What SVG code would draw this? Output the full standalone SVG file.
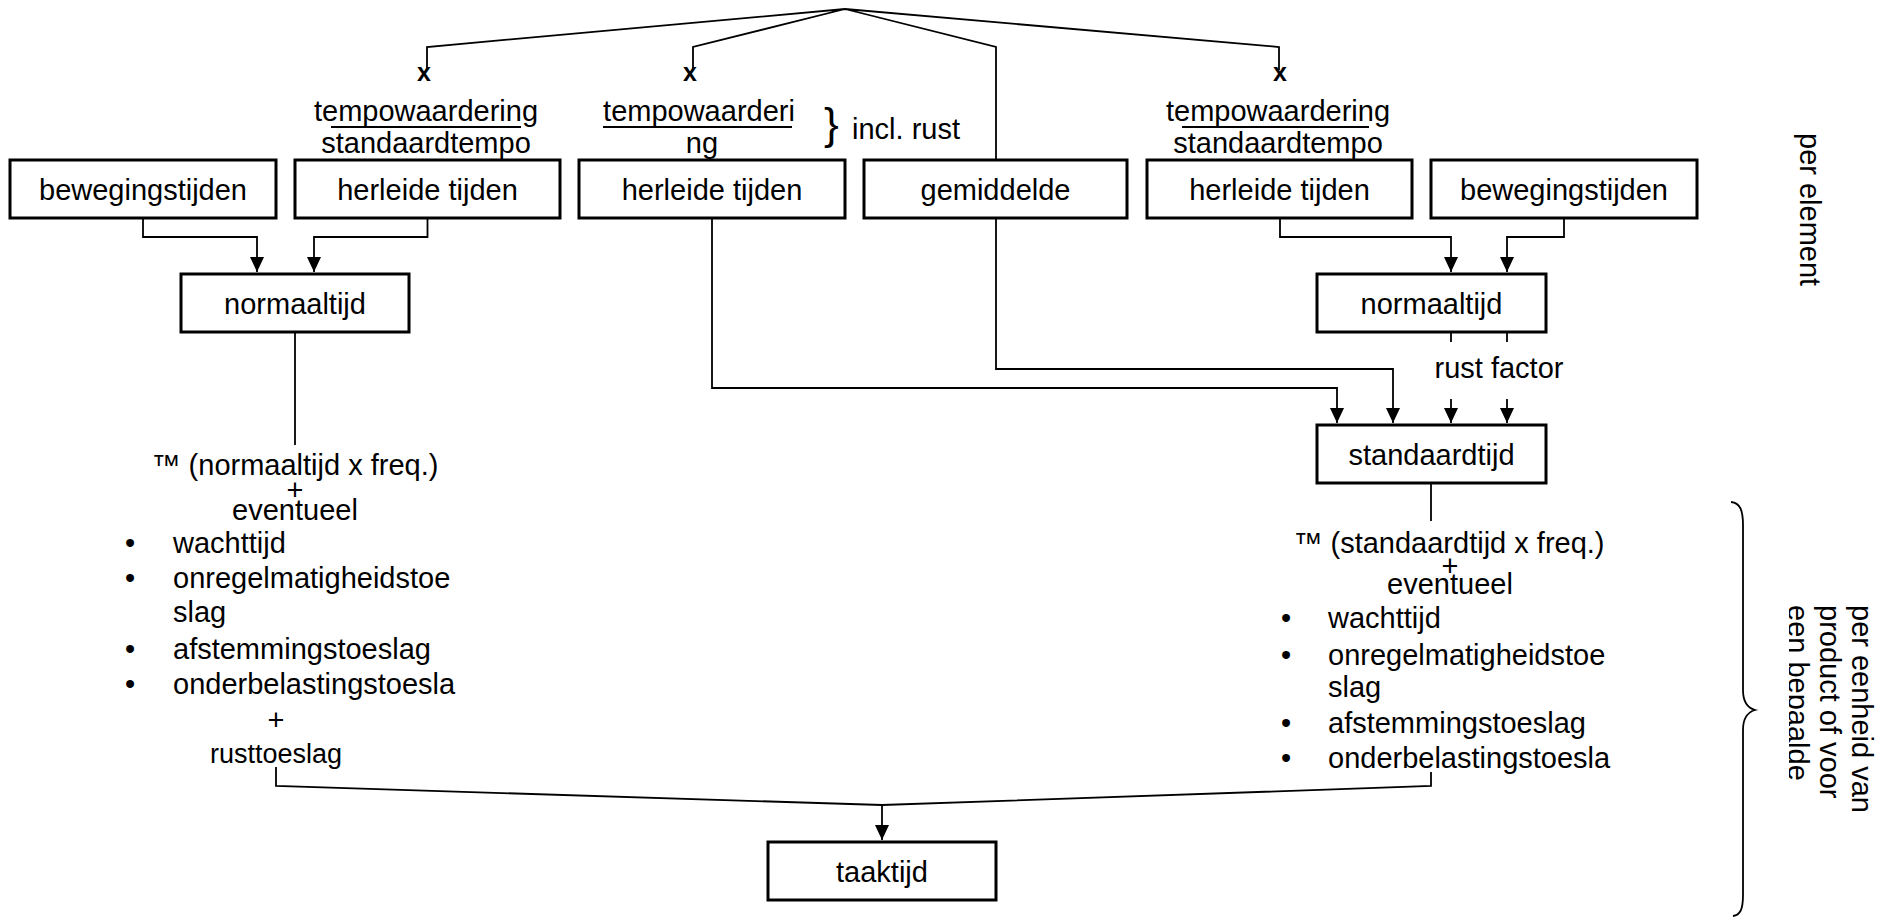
<svg xmlns="http://www.w3.org/2000/svg" width="1894" height="918" viewBox="0 0 1894 918">
<style>
text{font-family:"Liberation Sans",Arial,sans-serif;font-size:29px;fill:#000}
.m{text-anchor:middle}
.box{fill:#fff;stroke:#000;stroke-width:3}
.ln{fill:none;stroke:#000;stroke-width:1.8}
.x{font-weight:bold;font-size:25px;text-anchor:middle}
</style>
<defs>
<marker id="ah" markerUnits="userSpaceOnUse" markerWidth="16" markerHeight="14" refX="15" refY="7" orient="auto">
<path d="M0,0 L15,7 L0,14 z" fill="#000"/>
</marker>
<clipPath id="clipL"><rect x="1789" y="580" width="40" height="240"/></clipPath>
</defs>
<rect width="1894" height="918" fill="#fff"/>

<g id="connectors">
<path class="ln" d="M427,70 V47 L845,9 L693,47 V70 M845,9 L996,47 V160 M845,9 L1279,47 V70"/>
<path class="ln" d="M143,218 V237 H257 V272" marker-end="url(#ah)"/>
<path class="ln" d="M427.5,218 V237 H314 V272" marker-end="url(#ah)"/>
<path class="ln" d="M1280,218 V237 H1451 V272" marker-end="url(#ah)"/>
<path class="ln" d="M1564,218 V237 H1507 V272" marker-end="url(#ah)"/>
<path class="ln" d="M1451,332 V342 M1507,332 V342"/>
<path class="ln" d="M1451,399 V423" marker-end="url(#ah)"/>
<path class="ln" d="M1507,399 V423" marker-end="url(#ah)"/>
<path class="ln" d="M712,218 V388 H1337 V423" marker-end="url(#ah)"/>
<path class="ln" d="M996,218 V369 H1393 V423" marker-end="url(#ah)"/>
<path class="ln" d="M295,332 V445"/>
<path class="ln" d="M1431,483 V521"/>
<path class="ln" d="M276,767 V786 L882,805 L1431,786 V772"/>
<path class="ln" d="M882,805 V840" marker-end="url(#ah)"/>
<path class="ln" d="M1731,502 C1740,503 1743,510 1743,525 L1743,690 C1743,703 1748,708 1755,710 C1748,712 1743,717 1743,730 L1743,895 C1743,910 1740,915 1733,916"/>
</g>

<g id="n-bew1"><rect class="box" x="10" y="160" width="266" height="58"/><text class="m" x="143" y="199.5">bewegingstijden</text></g>
<g id="n-her1"><rect class="box" x="295" y="160" width="265" height="58"/><text class="m" x="427.5" y="199.5">herleide tijden</text></g>
<g id="n-her2"><rect class="box" x="579" y="160" width="266" height="58"/><text class="m" x="712" y="199.5">herleide tijden</text></g>
<g id="n-gem"><rect class="box" x="864" y="160" width="263" height="58"/><text class="m" x="995.5" y="199.5">gemiddelde</text></g>
<g id="n-her3"><rect class="box" x="1147" y="160" width="265" height="58"/><text class="m" x="1279.5" y="199.5">herleide tijden</text></g>
<g id="n-bew2"><rect class="box" x="1431" y="160" width="266" height="58"/><text class="m" x="1564" y="199.5">bewegingstijden</text></g>
<g id="n-norm1"><rect class="box" x="181" y="274" width="228" height="58"/><text class="m" x="295" y="313.5">normaaltijd</text></g>
<g id="n-norm2"><rect class="box" x="1317" y="274" width="229" height="58"/><text class="m" x="1431.5" y="313.5">normaaltijd</text></g>
<g id="n-std"><rect class="box" x="1317" y="425" width="229" height="58"/><text class="m" x="1431.5" y="464.5">standaardtijd</text></g>
<g id="n-taak"><rect class="box" x="768" y="842" width="228" height="58"/><text class="m" x="882" y="881.5">taaktijd</text></g>

<g id="labels-top">
<text class="x" x="424" y="81">x</text>
<text class="x" x="690" y="81">x</text>
<text class="x" x="1280" y="81">x</text>
<text class="m" x="426" y="121">tempowaardering</text>
<path class="ln" d="M331,127 H521"/>
<text class="m" x="426" y="153">standaardtempo</text>
<text class="m" x="699" y="121">tempowaarderi</text>
<path class="ln" d="M603,127 H792"/>
<text class="m" x="702" y="153">ng</text>
<text x="824" y="139" style="font-size:44px">}</text>
<text x="852" y="139">incl. rust</text>
<text class="m" x="1278" y="121">tempowaardering</text>
<path class="ln" d="M1182,127 H1369"/>
<text class="m" x="1278" y="153">standaardtempo</text>
<text class="m" x="1499" y="378">rust factor</text>
</g>

<g id="block-left">
<text class="m" x="295" y="475">™ (normaaltijd x freq.)</text>
<text class="m" x="295" y="500">+</text>
<text class="m" x="295" y="520">eventueel</text>
<text class="m" x="130" y="553">•</text><text x="173" y="553">wachttijd</text>
<text class="m" x="130" y="588">•</text><text x="173" y="588">onregelmatigheidstoe</text>
<text x="173" y="622">slag</text>
<text class="m" x="130" y="659">•</text><text x="173" y="659">afstemmingstoeslag</text>
<text class="m" x="130" y="694">•</text><text x="173" y="694">onderbelastingstoesla</text>
<text class="m" x="276" y="730">+</text>
<text class="m" x="276" y="763" style="font-size:27px">rusttoeslag</text>
</g>

<g id="block-right">
<text class="m" x="1449" y="553">™ (standaardtijd x freq.)</text>
<text class="m" x="1450" y="576">+</text>
<text class="m" x="1450" y="594">eventueel</text>
<text class="m" x="1286" y="628">•</text><text x="1328" y="628">wachttijd</text>
<text class="m" x="1286" y="665">•</text><text x="1328" y="665">onregelmatigheidstoe</text>
<text x="1328" y="697">slag</text>
<text class="m" x="1286" y="733">•</text><text x="1328" y="733">afstemmingstoeslag</text>
<text class="m" x="1286" y="768">•</text><text x="1328" y="768">onderbelastingstoesla</text>
</g>

<g id="side-labels">
<text transform="translate(1800,133) rotate(90)">per element</text>
<text transform="translate(1852,605) rotate(90)">per eenheid van</text>
<text transform="translate(1820,605) rotate(90)">product of voor</text>
<g clip-path="url(#clipL)"><text transform="translate(1788,605) rotate(90)">een bepaalde</text></g>
</g>
</svg>
